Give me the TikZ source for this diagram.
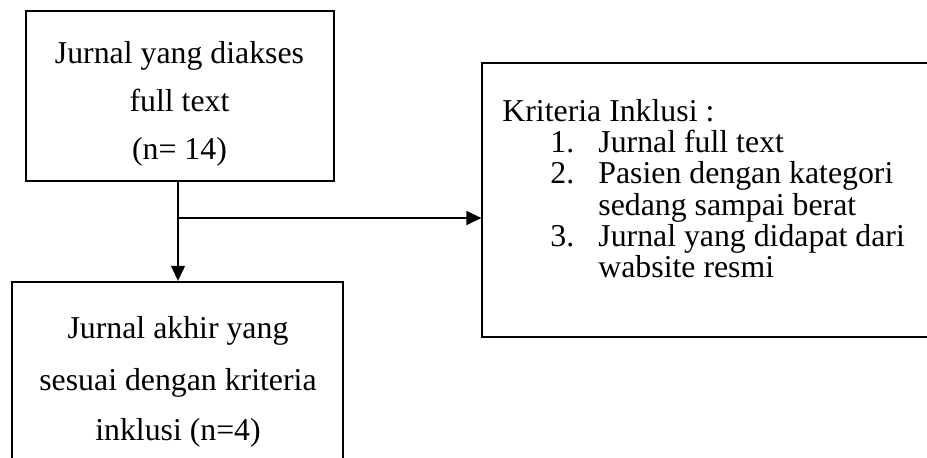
\documentclass[tikz,border=0pt]{standalone}
\usepackage{fontspec}
\setmainfont{Liberation Serif}
\usetikzlibrary{arrows.meta}
\begin{document}
\begin{tikzpicture}[x=0.5pt,y=-0.5pt,
  thickbox/.style={draw, line width=1.2pt, inner sep=0pt},
  thinbox/.style={draw, line width=0.6pt, inner sep=0pt},
  txt/.style={inner sep=0pt, font=\fontsize{15.9}{19}\selectfont},
  ctxt/.style={txt, anchor=base},
  ltxt/.style={txt, anchor=base west},
  arr/.style={line width=0.6pt, -{Triangle[length=7.5pt,width=7pt]}}]
\useasboundingbox (0,0) rectangle (927,457);
% boxes
\node[thickbox, minimum width=154pt, minimum height=85pt] (b1) at (180,96) {};
\node[thickbox, minimum width=165.5pt, minimum height=119pt] (b2) at (177.5,401) {};
\node[thinbox, minimum width=239pt, minimum height=137pt] (b3) at (721,200) {};
% box 1 text
\node[ctxt] (t11) at (179.5,63) {Jurnal yang diakses};
\node[ctxt] (t12) at (179.5,111) {full text};
\node[ctxt] (t13) at (179.5,159) {(n= 14)};
% box 2 text
\node[ctxt] (t21) at (178,338) {Jurnal akhir yang};
\node[ctxt] (t22) at (178,390) {sesuai dengan kriteria};
\node[ctxt] (t23) at (178,440) {inklusi (n=4)};
% box 3 text
\node[ltxt] (t30) at (502,121.5) {Kriteria Inklusi :};
\node[ltxt] (n1) at (550,152) {1.};
\node[ltxt] (t31) at (598,152) {Jurnal full text};
\node[ltxt] (n2) at (550,183) {2.};
\node[ltxt] (t32) at (598,183) {Pasien dengan kategori};
\node[ltxt] (t33) at (598,215) {sedang sampai berat};
\node[ltxt] (n3) at (550,246) {3.};
\node[ltxt] (t34) at (598,246) {Jurnal yang didapat dari};
\node[ltxt] (t35) at (598,277) {wabsite resmi};
% connectors
\coordinate (j) at (178,218);
\draw[arr] (b1.south -| j) -- (b2.north -| j);
\draw[arr] (j) -- (b3.west |- j);
\end{tikzpicture}
\end{document}
